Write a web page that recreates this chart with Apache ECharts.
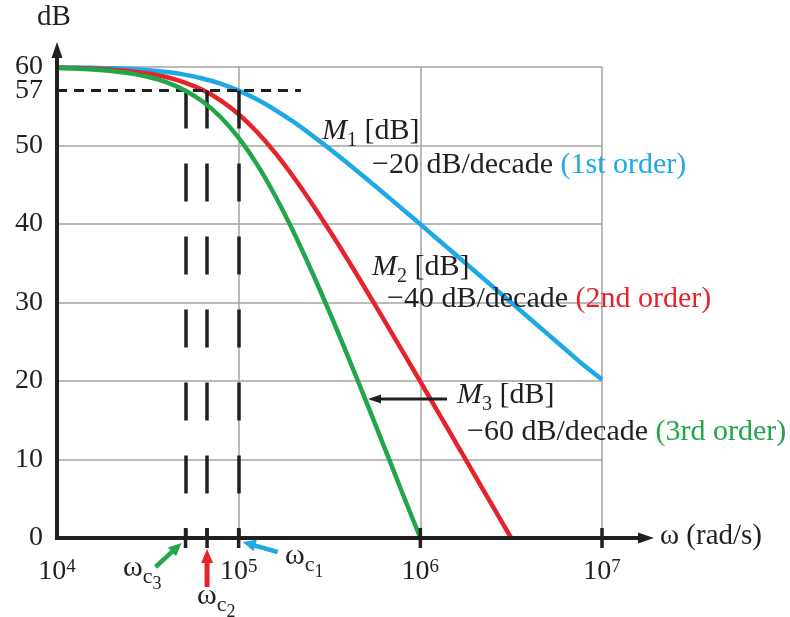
<!DOCTYPE html>
<html><head><meta charset="utf-8">
<script src="https://cdn.jsdelivr.net/npm/echarts@6/dist/echarts.min.js"></script>
<style>html,body{margin:0;padding:0;background:#fff}#c{width:790px;height:617px}</style>
</head><body><div id="c"></div>
<script>
// Frequencies (rad/s), read points along the curves
const freq = [10000,12589,15849,19953,25119,31623,39811,50119,63096,79433,100000,125893,158489,199526,251189,316228,398107,501187,630957,794328,1000000,1258925,1584893,1995262,2511886,3162278,3981072,5011872,6309573,7943282,10000000];
// M1 [dB] : 1st order
const m1 = [59.96,59.93,59.89,59.83,59.73,59.59,59.36,59.03,58.54,57.88,56.99,55.88,54.54,53.03,51.36,49.59,47.73,45.83,43.89,41.93,39.96,37.97,35.98,33.99,31.99,30.00,28.00,26.00,24.00,22.00,20.2];
// M2 [dB] : 2nd order
const m2 = [59.91,59.86,59.78,59.66,59.47,59.17,58.72,58.05,57.09,55.75,53.98,51.75,49.09,46.05,42.72,39.17,35.47,31.66,27.78,23.86,19.91,15.95,11.97,7.98,3.99,0];
// M3 [dB] : 3rd order
const m3 = [59.87,59.80,59.68,59.49,59.20,58.76,58.08,57.08,55.63,53.63,50.97,47.63,43.63,39.08,34.08,28.76,23.20,17.49,11.68,5.80,0];
// corner frequencies wc1, wc2, wc3
const wcValues = [100000, 67000, 51000];
const level57 = 57;
const yTicks = [0,10,20,30,40,50,60];

const INK = '#231f20';
const BLUE = '#1ea9e6', RED = '#e6232b', GREEN = '#22a64a';
const FF = '"Liberation Serif", "Times New Roman", serif';

const chart = echarts.init(document.getElementById('c'), null, {renderer:'canvas'});
const pairs = (arr) => arr.map((v,i)=>[freq[i], v]);

const option = {
  animation: false,
  backgroundColor: '#fff',
  grid: {left: 57, right: 188, top: 67, bottom: 79, containLabel: false},
  xAxis: {
    type: 'log', logBase: 10, min: 1e4, max: 1e7,
    axisLine: {show: false}, axisTick: {show: false},
    splitLine: {show: true, lineStyle: {color: '#a3a3a3', width: 1.5}},
    axisLabel: {
      margin: 20,
      formatter: v => '{b|10}{s|' + Math.round(Math.log10(v)) + '}',
      rich: {
        b: {fontSize: 28, fontFamily: FF, color: INK},
        s: {fontSize: 19, fontFamily: FF, color: INK, verticalAlign: 'top'}
      }
    }
  },
  yAxis: [{
    type: 'value', min: 0, max: 60, interval: 10, position: 'left',
    axisLine: {show: false}, axisTick: {show: false},
    splitLine: {show: true, lineStyle: {color: '#a3a3a3', width: 1.5}},
    axisLabel: {fontSize: 28, fontFamily: FF, color: INK, margin: 14,
      formatter: v => yTicks.includes(v) ? String(v) : ''}
  }, {
    type: 'value', min: 0, max: 60, interval: 57, position: 'left', offset: 0,
    axisLine: {show: false}, axisTick: {show: false}, splitLine: {show: false},
    axisLabel: {fontSize: 28, fontFamily: FF, color: INK, margin: 14,
      formatter: v => v === level57 ? String(v) : ''}
  }],
  series: [
    {name: 'M1', type: 'line', data: pairs(m1), showSymbol: false, smooth: 0.4,
     lineStyle: {color: BLUE, width: 4.5}, z: 3,
     markLine: {
       silent: true, symbol: ['none','none'], label: {show: false}, animation: false,
       data: [
         [{coord: [1e4, level57], lineStyle: {color: INK, width: 3, type: [10, 7]}}, {coord: [2.2e5, level57]}],
         ...wcValues.map(w => [{coord: [w, level57], lineStyle: {color: INK, width: 3.5, type: [38, 35]}}, {coord: [w, 0]}])
       ]
     }},
    {name: 'M2', type: 'line', data: pairs(m2), showSymbol: false, smooth: 0.4,
     lineStyle: {color: RED, width: 4.5}, z: 4},
    {name: 'M3', type: 'line', data: pairs(m3), showSymbol: false, smooth: 0.4,
     lineStyle: {color: GREEN, width: 4.5}, z: 5}
  ]
};
chart.setOption(option);

const P = (x, y) => chart.convertToPixel({xAxisIndex: 0, yAxisIndex: 0}, [x, y]);
const mctx = document.createElement('canvas').getContext('2d');

function arrow(x1, y1, x2, y2, color, w, hl, hw) {
  const dx = x2 - x1, dy = y2 - y1, len = Math.hypot(dx, dy), ux = dx / len, uy = dy / len;
  const bx = x2 - ux * hl, by = y2 - uy * hl;
  return [
    {type: 'line', shape: {x1, y1, x2: bx + ux, y2: by + uy}, style: {stroke: color, lineWidth: w}, z: 20},
    {type: 'polygon', shape: {points: [[x2, y2], [bx - uy * hw / 2, by + ux * hw / 2], [bx + uy * hw / 2, by - ux * hw / 2]]}, style: {fill: color}, z: 20}
  ];
}
function runs(x, baseline, parts) {
  const out = []; let cx = x;
  for (const p of parts) {
    const font = (p.it ? 'italic ' : '') + p.s + 'px ' + FF;
    mctx.font = font;
    const yy = baseline + (p.dy || 0) - p.s * 0.32;
    out.push({type: 'text', x: cx, y: yy, z: 30,
      style: {text: p.t, font, fill: p.c || INK, align: 'left', verticalAlign: 'middle', textAlign: 'left', textVerticalAlign: 'middle'}});
    cx += mctx.measureText(p.t).width;
  }
  return out;
}

const [x0, y0] = P(1e4, 0);
const yTop = P(1e4, 60)[1];
const xEnd = P(1e7, 0)[0];
const g = [];
// axes
g.push({type: 'line', shape: {x1: x0, y1: y0 + 2, x2: x0, y2: yTop - 12}, style: {stroke: INK, lineWidth: 4}, z: 15});
g.push({type: 'polygon', shape: {points: [[x0, yTop - 25], [x0 - 5.5, yTop - 9], [x0 + 5.5, yTop - 9]]}, style: {fill: INK}, z: 15});
g.push({type: 'line', shape: {x1: x0 - 2, y1: y0, x2: xEnd + 38, y2: y0}, style: {stroke: INK, lineWidth: 4}, z: 15});
g.push({type: 'polygon', shape: {points: [[xEnd + 52, y0], [xEnd + 36, y0 - 5.5], [xEnd + 36, y0 + 5.5]]}, style: {fill: INK}, z: 15});
// ticks
[...wcValues, 1e6, 1e7].forEach(v => {
  const px = P(v, 0)[0];
  g.push({type: 'line', shape: {x1: px, y1: y0 - 10, x2: px, y2: y0 + 10}, style: {stroke: INK, lineWidth: 3.5}, z: 16});
});
// corner-frequency arrows
const xc1 = P(wcValues[0], 0)[0], xc2 = P(wcValues[1], 0)[0], xc3 = P(wcValues[2], 0)[0];
g.push(...arrow(xc3 - 30, y0 + 29, xc3 - 4, y0 + 5, GREEN, 4.5, 13, 12));
g.push(...arrow(xc2, y0 + 49, xc2, y0 + 11, RED, 5, 14, 12));
g.push(...arrow(xc1 + 39, y0 + 14, xc1 + 4, y0 + 4, BLUE, 4.5, 13, 12));
// M3 pointer arrow
g.push(...arrow(447, 399, 368, 399, INK, 3, 13, 9));

// texts
g.push(...runs(37, 27, [{t: 'dB', s: 29}]));
g.push(...runs(660, 546, [{t: 'ω (rad/s)', s: 29}]));
g.push(...runs(322, 141, [{t: 'M', s: 30, it: true}, {t: '1', s: 20, dy: 6}, {t: ' [dB]', s: 30}]));
g.push(...runs(372, 175, [{t: '−20 dB/decade ', s: 30}, {t: '(1st order)', s: 30, c: BLUE}]));
g.push(...runs(372, 277, [{t: 'M', s: 30, it: true}, {t: '2', s: 20, dy: 6}, {t: ' [dB]', s: 30}]));
g.push(...runs(387, 309, [{t: '−40 dB/decade ', s: 30}, {t: '(2nd order)', s: 30, c: RED}]));
g.push(...runs(457, 405, [{t: 'M', s: 30, it: true}, {t: '3', s: 20, dy: 6}, {t: ' [dB]', s: 30}]));
g.push(...runs(467, 442, [{t: '−60 dB/decade ', s: 30}, {t: '(3rd order)', s: 30, c: GREEN}]));
g.push(...runs(123, 578, [{t: 'ω', s: 30}, {t: 'c', s: 22, dy: 6}, {t: '3', s: 18, dy: 12}]));
g.push(...runs(197, 606, [{t: 'ω', s: 30}, {t: 'c', s: 22, dy: 6}, {t: '2', s: 18, dy: 12}]));
g.push(...runs(285, 566, [{t: 'ω', s: 30}, {t: 'c', s: 22, dy: 6}, {t: '1', s: 18, dy: 12}]));

chart.setOption({graphic: {elements: g}});
</script></body></html>
